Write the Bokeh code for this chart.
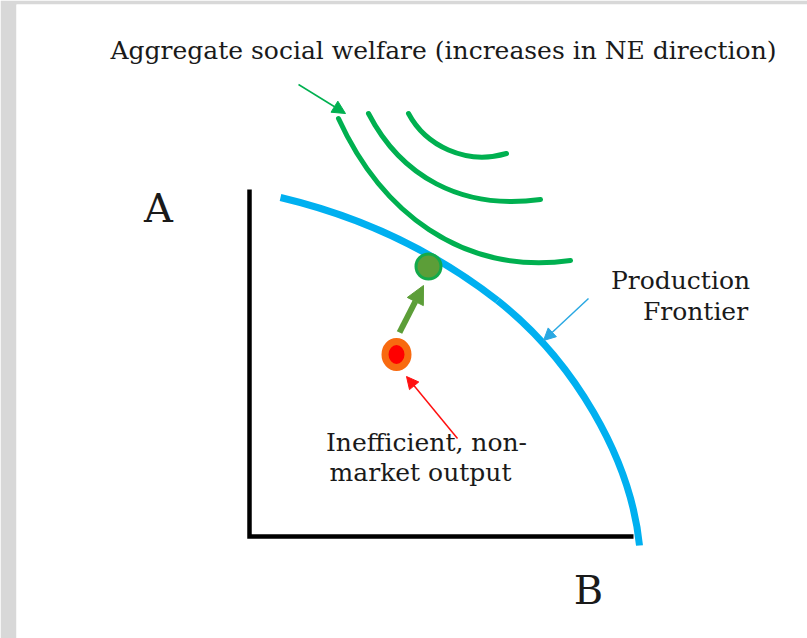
from bokeh.plotting import figure
from bokeh.models import Range1d, Arrow, NormalHead
from bokeh.core.properties import value
from bokeh.embed import file_html
from bokeh.resources import INLINE

# ---- data (chart units: origin at the axes corner, 1 unit ~ 1 px) ----
# axes
axis_x = [0, 0, 384]
axis_y = [347, 0, 0]

# production frontier (two cubic segments)
front_x0 = [31, 248]
front_y0 = [339, 236]
front_cx0 = [103, 324]
front_cy0 = [322, 176]
front_cx1 = [176, 381]
front_cy1 = [292, 79]
front_x1 = [248, 390]
front_y1 = [236, -9]

# social welfare contours (outer, middle, inner)
wel_x0 = [89, 119, 159]
wel_y0 = [418, 423, 423]
wel_cx0 = [131, 151, 176]
wel_cy0 = [326, 361, 391]
wel_cx1 = [211, 211, 216]
wel_cy1 = [261, 326, 371]
wel_x1 = [321, 291, 257]
wel_y1 = [276, 337, 383]

# points
efficient_pt = (179, 270)
inefficient_pt = (147, 182)

# arrows: (x_start, y_start, x_end, y_end)
move_arrow = (150, 204, 174, 251)
welfare_ptr = (49, 452, 96, 423)
frontier_ptr = (339, 238, 294, 196)
ineff_ptr = (208, 98, 157, 160)

# labels
label_text = ["Aggregate social welfare (increases in NE direction)", "A", "B",
              "Production", "Frontier", "Inefficient, non-", "market output"]
label_x = [194, -91, 339, 431, 446, 177, 171]
label_y = [486, 329, -53, 256, 225, 94, 64]
label_size = ["25px", "40px", "40px", "25px", "25px", "25px", "25px"]

p = figure(width=807, height=638, x_range=Range1d(-233, 558), y_range=Range1d(-102, 532),
           output_backend="svg", toolbar_location=None, title=None,
           x_axis_location=None, y_axis_location=None,
           min_border_left=16, min_border_right=0, min_border_top=4, min_border_bottom=0)
p.grid.visible = False
p.outline_line_color = None
p.border_fill_color = "#d8d8d8"
p.background_fill_color = "white"

# axes lines
p.line(axis_x, axis_y, line_color="black", line_width=4.5, line_join="miter")

# welfare curves
p.bezier(x0=wel_x0, y0=wel_y0, x1=wel_x1, y1=wel_y1, cx0=wel_cx0, cy0=wel_cy0,
         cx1=wel_cx1, cy1=wel_cy1, line_color="#00B050", line_width=5, line_cap="round")

# frontier
p.bezier(x0=front_x0, y0=front_y0, x1=front_x1, y1=front_y1, cx0=front_cx0, cy0=front_cy0,
         cx1=front_cx1, cy1=front_cy1, line_color="#00B0F0", line_width=7, line_cap="butt")

# arrows
def add_arrow(a, color, width, size):
    p.add_layout(Arrow(end=NormalHead(size=size, fill_color=color, line_color=color, line_width=1),
                       x_start=a[0], y_start=a[1], x_end=a[2], y_end=a[3],
                       line_color=color, line_width=width))

add_arrow(move_arrow, "#5C9E38", 6, 18)
add_arrow(welfare_ptr, "#00B050", 1.5, 13)
add_arrow(frontier_ptr, "#2AA8E2", 1.5, 12)
add_arrow(ineff_ptr, "#FF1010", 1.5, 12)

# points
p.scatter([efficient_pt[0]], [efficient_pt[1]], size=25, fill_color="#5C9E38",
          line_color="#13AA4A", line_width=3)
p.ellipse([inefficient_pt[0]], [inefficient_pt[1]], width=23, height=26, fill_color="#FF0000",
          line_color="#F86A10", line_width=7)

# labels
p.text(x=label_x, y=label_y, text=label_text, text_font=value("DejaVu Serif"),
       text_font_size=label_size, text_align="center", text_baseline="alphabetic",
       text_color="#1a1a1a")

open("out.html", "w").write(file_html(p, INLINE, title="Production frontier"))
